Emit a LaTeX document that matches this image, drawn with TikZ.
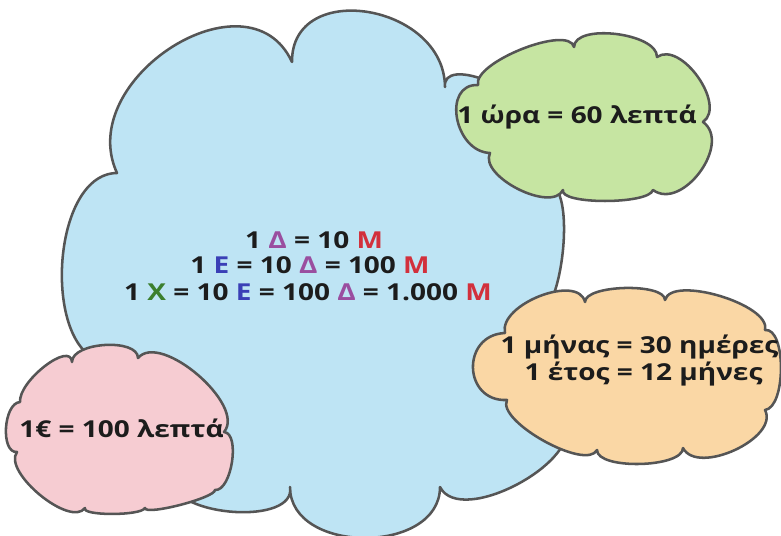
\documentclass[tikz,border=0pt]{standalone}
\usepackage{fontspec}
\setmainfont{Open Sans}[FakeStretch=1.2]
\usetikzlibrary{calc}
\definecolor{cblue}{HTML}{BEE4F4}
\definecolor{cgreen}{HTML}{C6E5A2}
\definecolor{corange}{HTML}{FAD7A5}
\definecolor{cpink}{HTML}{F6CCD2}
\definecolor{cline}{HTML}{555555}
\definecolor{ctext}{HTML}{1C1C1C}
\definecolor{cdelta}{HTML}{9A4E9F}
\definecolor{cmred}{HTML}{D2303C}
\definecolor{ceblue}{HTML}{3A3FB6}
\definecolor{cxgreen}{HTML}{3B7F2D}
\def\lobe(#1)(#2)(#3){.. controls ($0.3333*(#1)+1.3333*(#2)-0.6667*(#3)$) and ($1.3333*(#2)+0.3333*(#3)-0.6667*(#1)$) .. (#3)}
\tikzset{
  cloudline/.style={draw=cline, line width=1.9pt, line join=round},
  txt/.style={inner sep=0pt, anchor=base, text=ctext, font=\bfseries\fontsize{17.5}{21}\selectfont}
}
\begin{document}
\begin{tikzpicture}[x=0.75pt,y=-0.75pt]
\fill[white] (0,0) rectangle (781,535);
\useasboundingbox (0,0) rectangle (781,535);
\clip (0,0) rectangle (781,535);
% big blue cloud
\path[cloudline, fill=cblue] (117,173)
  \lobe(117,173)(172,47)(292,62)
  \lobe(292,62)(368,12)(445,87)
  \lobe(445,87)(485,80)(530,120)
  \lobe(530,120)(565,160)(548,185)
  \lobe(548,185)(563,250)(535,318)
  \lobe(535,318)(560,385)(565,420)
  \lobe(565,420)(518,484)(440,487)
  \lobe(440,487)(365,538)(290,487)
  \lobe(290,487)(235,512)(170,480)
  \lobe(170,480)(120,440)(110,362)
  \lobe(110,362)(62,268)(117,173) -- cycle;
% green cloud
\path[cloudline, fill=cgreen] (478,85)
  \lobe(478,85)(522,49)(574,47)
  \lobe(574,47)(616,34)(657,57)
  \lobe(657,57)(698,77)(703,122)
  \lobe(703,122)(700,172)(653,190)
  \lobe(653,190)(605,201)(563,190)
  \lobe(563,190)(518,189)(490,153)
  \lobe(490,153)(457,118)(478,85) -- cycle;
% orange cloud
\path[cloudline, fill=corange] (505,333)
  \lobe(505,333)(540,296)(585,302)
  \lobe(585,302)(625,288)(665,300)
  \lobe(665,300)(720,296)(765,330)
  \lobe(765,330)(781,368)(765,410)
  \lobe(765,410)(735,450)(683,448)
  \lobe(683,448)(640,464)(597,450)
  \lobe(597,450)(544,441)(507,400)
  \lobe(507,400)(473,368)(505,333) -- cycle;
% pink cloud
\path[cloudline, fill=cpink] (20,402)
  \lobe(20,402)(45,366)(72,362)
  \lobe(72,362)(105,345)(138,358)
  \lobe(138,358)(198,375)(224,432)
  \lobe(224,432)(232,462)(215,490)
  \lobe(215,490)(180,505)(145,508)
  \lobe(145,508)(112,514)(85,508)
  \lobe(85,508)(40,495)(17,452)
  \lobe(17,452)(6,428)(20,402) -- cycle;
% texts
\node[txt] (b1) at (314,248) {1 \textcolor{cdelta}{Δ} = 10 \textcolor{cmred}{Μ}};
\node[txt] (b2) at (310,273) {1 \textcolor{ceblue}{Ε} = 10 \textcolor{cdelta}{Δ} = 100 \textcolor{cmred}{Μ}};
\node[txt] (b3) at (308,300) {1 \textcolor{cxgreen}{Χ} = 10 \textcolor{ceblue}{Ε} = 100 \textcolor{cdelta}{Δ} = 1.000 \textcolor{cmred}{Μ}};
\node[txt] (g1) at (577,123) {1 ώρα = 60 λεπτά};
\node[txt] (o1) at (639.5,353) {1 μήνας = 30 ημέρες};
\node[txt] (o2) at (643.5,380) {1 έτος = 12 μήνες};
\node[txt] (p1) at (121.5,437) {1€ = 100 λεπτά};
\end{tikzpicture}
\end{document}
